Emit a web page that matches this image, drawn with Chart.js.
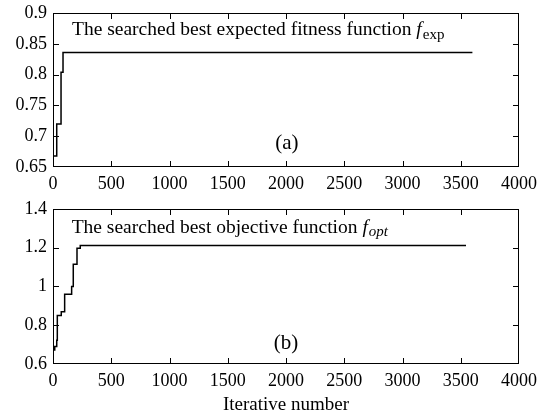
<!DOCTYPE html>
<html><head><meta charset="utf-8">
<script src="https://cdn.jsdelivr.net/npm/chart.js@4/dist/chart.umd.min.js"></script>
<style>
html,body{margin:0;padding:0;background:#fff;width:541px;height:417px;overflow:hidden}
canvas{position:absolute;left:0}
#c1{top:0}
#c2{top:200px}
</style></head><body>
<canvas id="c1" width="541" height="200"></canvas>
<canvas id="c2" width="541" height="217"></canvas>
<script>
// ---- data ----
const xTicks = [0, 500, 1000, 1500, 2000, 2500, 3000, 3500, 4000];
const yTicksA = [0.65, 0.7, 0.75, 0.8, 0.85, 0.9];
const yTicksB = [0.6, 0.8, 1, 1.2, 1.4];
const expIter = [8, 32, 69, 86, 3600];
const expFitness = [0.668, 0.72, 0.804, 0.836, 0.836];
const optIter = [3, 15, 32, 37, 71, 100, 160, 174, 206, 234, 3545];
const optValue = [0.672, 0.69, 0.722, 0.85, 0.87, 0.96, 1.0, 1.115, 1.198, 1.211, 1.211];
const xLabel = 'Iterative number';

const SERIF = '"Liberation Serif", "Times New Roman", serif';

const framePlugin = {
  id: 'frame',
  afterDraw(chart, args, o) {
    const ctx = chart.ctx, a = chart.chartArea;
    const xs = chart.scales.x, ys = chart.scales.y;
    ctx.save();
    ctx.fillStyle = '#000';
    const L = Math.round(a.left), R = Math.round(a.right) - 1;
    const T = Math.round(a.top), B = Math.round(a.bottom) - 1;
    // frame
    ctx.fillRect(L, T, R - L + 1, 1);
    ctx.fillRect(L, B, R - L + 1, 1);
    ctx.fillRect(L, T, 1, B - T + 1);
    ctx.fillRect(R, T, 1, B - T + 1);
    // inward tick marks
    const len = 5;
    xTicks.forEach(v => {
      const px = Math.min(Math.max(Math.round(xs.getPixelForValue(v)), L), R);
      ctx.fillRect(px, B - len, 1, len);
      ctx.fillRect(px, T + 1, 1, len);
    });
    o.yTicks.forEach(v => {
      const yy = Math.min(Math.max(Math.round(ys.getPixelForValue(v)), T), B);
      ctx.fillRect(L + 1, yy, len, 1);
      ctx.fillRect(R - len, yy, len, 1);
    });
    // annotations
    ctx.textBaseline = 'middle';
    const tt = o.title;
    let tx = xs.getPixelForValue(tt.x), ty = ys.getPixelForValue(tt.y);
    ctx.textAlign = 'left';
    ctx.font = '19.5px ' + SERIF;
    ctx.fillText(tt.text, tx, ty);
    tx += ctx.measureText(tt.text).width;
    ctx.font = 'italic 19.5px ' + SERIF;
    ctx.fillText('f', tx, ty);
    tx += ctx.measureText('f').width + 1;
    ctx.font = (tt.subItalic ? 'italic ' : '') + '15px ' + SERIF;
    ctx.fillText(tt.sub, tx, ty + 5);
    const p = o.panel;
    ctx.textAlign = 'center';
    ctx.font = '21px ' + SERIF;
    ctx.fillText(p.text, xs.getPixelForValue(p.x), ys.getPixelForValue(p.y));
    ctx.restore();
  }
};

function makeChart(id, iters, vals, yTicks, cfg) {
  return new Chart(document.getElementById(id), {
    type: 'line',
    data: {
      datasets: [{
        data: iters.map((v, i) => ({x: v, y: vals[i]})),
        stepped: true,
        borderColor: '#000',
        borderWidth: 1.5,
        pointRadius: 0,
        pointHoverRadius: 0,
        fill: false
      }]
    },
    options: {
      responsive: false,
      animation: false,
      events: [],
      layout: {autoPadding: false, padding: {top: cfg.padTop, right: 22, left: 0, bottom: 0}},
      plugins: {
        legend: {display: false},
        tooltip: {enabled: false},
        frame: {title: cfg.title, panel: cfg.panel, yTicks: yTicks}
      },
      scales: {
        x: {
          type: 'linear', min: 0, max: 4000,
          afterBuildTicks: s => { s.ticks = xTicks.map(v => ({value: v})); },
          afterFit: s => { s.height = cfg.xHeight; s.paddingLeft = 0; s.paddingRight = 0; },
          grid: {display: false, drawTicks: false},
          border: {display: false},
          ticks: {padding: 6, color: '#000', font: {family: SERIF, size: 18}, maxRotation: 0, autoSkip: false,
                  callback: v => String(v)},
          title: cfg.xTitle ? {display: true, text: xLabel, color: '#000', font: {family: SERIF, size: 19}, padding: {top: 0, bottom: 1}} : {display: false}
        },
        y: {
          type: 'linear', min: yTicks[0], max: yTicks[yTicks.length - 1],
          afterBuildTicks: s => { s.ticks = yTicks.map(v => ({value: v})); },
          afterFit: s => { s.width = 53; s.paddingTop = 0; s.paddingBottom = 0; },
          grid: {display: false, drawTicks: false},
          border: {display: false},
          ticks: {padding: 6, color: '#000', font: {family: SERIF, size: 18}, callback: v => String(v)}
        }
      }
    },
    plugins: [framePlugin]
  });
}

makeChart('c1', expIter, expFitness, yTicksA, {
  padTop: 13, xHeight: 33, xTitle: false,
  title: {text: 'The searched best expected fitness function ', sub: 'exp', subItalic: false, x: 163, y: 0.872},
  panel: {text: '(a)', x: 2008, y: 0.688}
});
makeChart('c2', optIter, optValue, yTicksB, {
  padTop: 9, xHeight: 53, xTitle: true,
  title: {text: 'The searched best objective function ', sub: 'opt', subItalic: true, x: 160, y: 1.305},
  panel: {text: '(b)', x: 2000, y: 0.707}
});
</script>
</body></html>
